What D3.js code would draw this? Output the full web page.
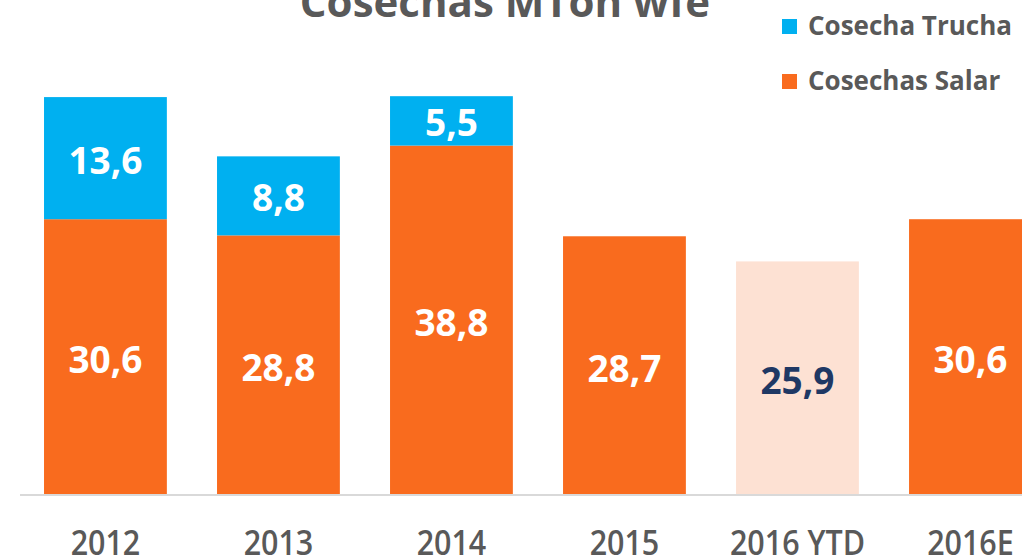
<!DOCTYPE html>
<html><head><meta charset="utf-8">
<script src="https://cdn.jsdelivr.net/npm/d3@7"></script>
<style>html,body{margin:0;padding:0;background:#fff;overflow:hidden}</style>
</head><body>
<script>
const categories = ["2012","2013","2014","2015","2016 YTD","2016E"];
const salar = [30.6, 28.8, 38.8, 28.7, 25.9, 30.6];
const trucha = [13.6, 8.8, 5.5, null, null, null];
const salarLabels = ["30,6","28,8","38,8","28,7","25,9","30,6"];
const truchaLabels = ["13,6","8,8","5,5",null,null,null];
const legendLabels = ["Cosecha Trucha","Cosechas Salar"];
const title = "Cosechas MTon wfe";

const W = 1022, H = 560;
const svg = d3.select("body").append("svg").attr("width", W).attr("height", H);

const x = d3.scaleBand().domain(categories).range([19.8, 1056.1]).paddingInner(0.29).paddingOuter(0.14);
const y = d3.scaleLinear().domain([0, 50]).range([494, 45]);

const orange = "#F96B1E", blue = "#00B0F0", peach = "#FDE1D3", navy = "#1F3864", gray = "#595959";

// bars salar
svg.selectAll("rect.salar").data(categories).enter().append("rect")
  .attr("x", d => x(d)).attr("width", x.bandwidth())
  .attr("y", (d,i) => y(salar[i])).attr("height", (d,i) => y(0) - y(salar[i]))
  .attr("fill", (d,i) => d === "2016 YTD" ? peach : orange);

// bars trucha
svg.selectAll("rect.trucha").data(categories.filter((d,i) => trucha[i] != null)).enter().append("rect")
  .attr("x", d => x(d)).attr("width", x.bandwidth())
  .attr("y", d => { const i = categories.indexOf(d); return y(salar[i] + trucha[i]); })
  .attr("height", d => { const i = categories.indexOf(d); return y(salar[i]) - y(salar[i] + trucha[i]); })
  .attr("fill", blue);

// baseline
svg.append("line").attr("x1", 20).attr("x2", W).attr("y1", y(0) + 1).attr("y2", y(0) + 1)
  .attr("stroke", "#d9d9d9").attr("stroke-width", 2);

// value labels
const lblFont = "'Open Sans', sans-serif";
categories.forEach((d, i) => {
  svg.append("text").attr("x", x(d) + x.bandwidth()/2)
    .attr("y", (y(salar[i]) + y(0)) / 2)
    .attr("dy", "0.45em").attr("text-anchor", "middle")
    .attr("font-family", lblFont).attr("font-weight", 700).attr("font-size", 37)
    .attr("fill", d === "2016 YTD" ? navy : "#fff").text(salarLabels[i]);
  if (trucha[i] != null) {
    svg.append("text").attr("x", x(d) + x.bandwidth()/2)
      .attr("y", (y(salar[i] + trucha[i]) + y(salar[i])) / 2)
      .attr("dy", "0.42em").attr("text-anchor", "middle")
      .attr("font-family", lblFont).attr("font-weight", 700).attr("font-size", 37)
      .attr("fill", "#fff").text(truchaLabels[i]);
  }
});

// x axis
const xAxis = svg.append("g").attr("transform", `translate(0,${y(0)})`)
  .call(d3.axisBottom(x).tickSize(0).tickPadding(0));
xAxis.select(".domain").remove();
xAxis.selectAll("text").attr("y", 61).attr("dy", 0)
  .attr("transform", "scale(0.87,1)")
  .attr("font-family", lblFont).attr("font-weight", 600)
  .attr("font-size", 35).attr("fill", gray);

// title
svg.append("text").attr("x", 505).attr("y", 17).attr("text-anchor", "middle")
  .attr("font-family", lblFont).attr("font-weight", 700).attr("font-size", 42)
  .attr("fill", gray).text(title);

// legend
const legColors = [blue, orange];
legendLabels.forEach((t, i) => {
  const ly = 19 + i * 55;
  svg.append("rect").attr("x", 782).attr("y", ly).attr("width", 15).attr("height", 15).attr("fill", legColors[i]);
  svg.append("text").attr("x", 808).attr("y", ly + 16).attr("font-family", lblFont)
    .attr("font-weight", 700).attr("font-size", 26).attr("fill", gray).text(t);
});
</script>
</body></html>
